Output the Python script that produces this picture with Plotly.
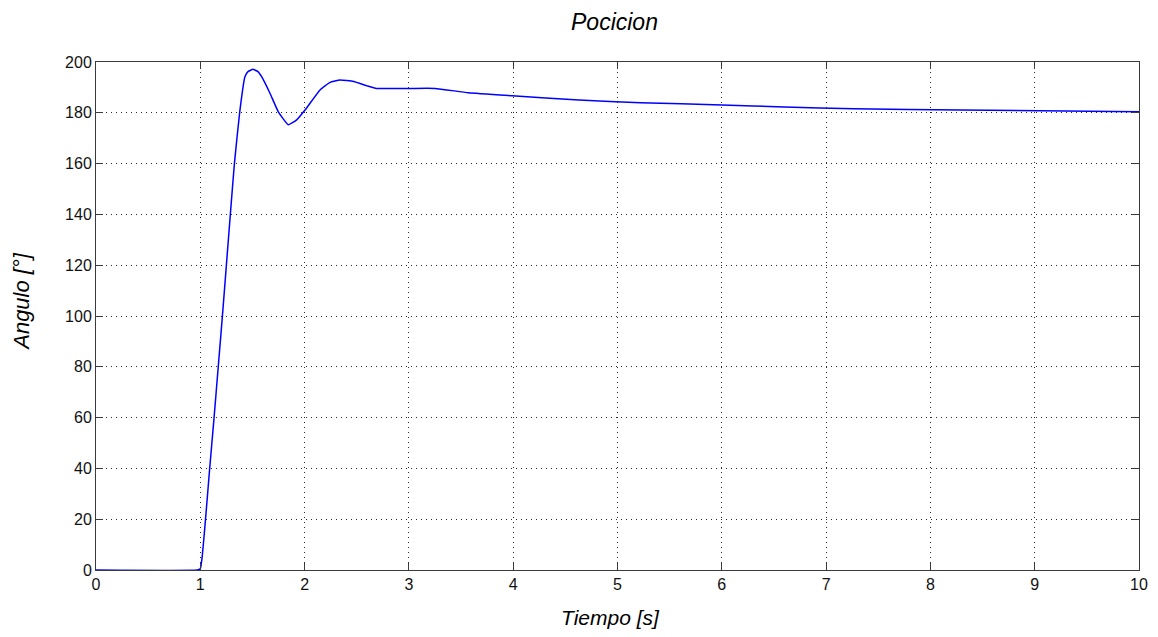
import plotly.graph_objects as go

# Data
time_s = [0, 0.97, 1.0, 1.02, 1.05, 1.09, 1.132, 1.172, 1.212, 1.25,
          1.288, 1.327, 1.377, 1.428, 1.46, 1.505, 1.55, 1.588, 1.668, 1.748,
          1.844, 1.924, 2.004, 2.148, 2.244, 2.34, 2.47, 2.6, 2.69, 3.0, 3.25,
          3.57, 3.99, 4.63, 5.22, 6.0, 6.6, 7.27, 8.3, 10.0]
angle_deg = [0, 0, 0.5, 6, 20, 40, 60, 80, 100, 120,
             140, 160, 180, 194.2, 196.3, 197.1, 196.3, 194.2, 187.7, 180.4,
             175.3, 177.2, 181.1, 189.0, 192.0, 192.9, 192.3, 190.6, 189.6, 189.6, 189.6,
             187.9, 186.7, 185.0, 184.0, 183.1, 182.3, 181.6, 181.1, 180.4]

x_ticks = list(range(0, 11))
y_ticks = list(range(0, 201, 20))

title_text = "Pocicion"
x_title = "Tiempo [s]"
y_title = "Angulo [°]"

fig = go.Figure()
fig.add_trace(go.Scatter(x=time_s, y=angle_deg, mode="lines",
                         line=dict(color="#0000ff", width=1.5, shape="spline", smoothing=0.4),
                         showlegend=False, hoverinfo="skip"))

axis_common = dict(
    showline=True, mirror="allticks", linecolor="#3a3a3a", linewidth=1,
    ticks="inside", ticklen=7, tickcolor="#3a3a3a", tickwidth=1,
    showgrid=True, gridcolor="#2a2a2a", gridwidth=1, griddash="1px,4px",
    zeroline=False, automargin=False,
    tickfont=dict(family="Liberation Sans, Arial, sans-serif", size=16, color="#111"),
)

fig.update_xaxes(range=[0, 10], tickvals=x_ticks, ticktext=[str(v) for v in x_ticks],
                 **axis_common)
fig.update_yaxes(range=[0, 200], tickvals=y_ticks, ticktext=[str(v) for v in y_ticks],
                 **axis_common)

italic = dict(family="Liberation Sans, Arial, sans-serif", size=22, color="#000")

# page body has an 8px margin, so the figure is 16px smaller than the window
fig.update_layout(
    width=1142, height=621,
    margin=dict(l=88, r=11, t=54, b=59),
    paper_bgcolor="white", plot_bgcolor="white",
    annotations=[
        dict(text="<i>" + title_text + "</i>", xref="paper", yref="paper",
             x=0.497, y=1.0, yshift=40, showarrow=False, font=dict(italic, size=23),
             xanchor="center", yanchor="middle"),
        dict(text="<i>" + x_title + "</i>", xref="paper", yref="paper",
             x=0.493, y=0.0, yshift=-47, showarrow=False, font=dict(italic, size=21),
             xanchor="center", yanchor="middle"),
        dict(text="<i>" + y_title + "</i>", xref="paper", yref="paper",
             x=0.0, y=0.528, xshift=-74, showarrow=False, font=italic, textangle=-90,
             xanchor="center", yanchor="middle"),
    ],
)

fig.write_html("out.html")
